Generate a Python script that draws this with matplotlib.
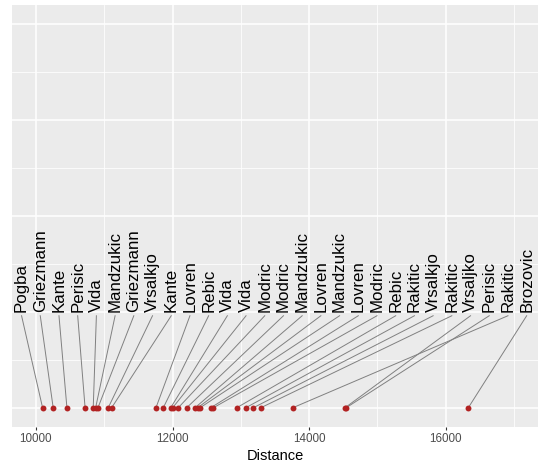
"""
Distance covered per player, labels repelled above the points with leader lines
"""
import numpy as np
import matplotlib
matplotlib.use("Agg")
import matplotlib.pyplot as plt

# data, in the order the labels appear from left to right
players = ["Pogba", "Griezmann", "Kante", "Perisic", "Vida", "Mandzukic", "Griezmann", "Vrsalkjo",
           "Kante", "Lovren", "Rebic", "Vida", "Vida", "Modric", "Modric", "Mandzukic", "Lovren",
           "Mandzukic", "Lovren", "Modric", "Rebic", "Rakitic", "Vrsalkjo", "Rakitic", "Vrsaljko",
           "Perisic", "Rakitic", "Brozovic"]
distance = [10098, 10253, 10454, 10720, 10839, 10874, 10908, 11058,
            11108, 11757, 11864, 11972, 12001, 12083, 12206, 12328, 12367,
            12401, 12558, 12596, 12938, 13070, 13181, 13290, 14524,
            14540, 13758, 16329]
x_ticks = [10000, 12000, 14000, 16000]


def plot():
    plt.rcParams['font.family'] = ['Liberation Sans', 'DejaVu Sans']
    fig = plt.figure(figsize=(5.45, 4.70), dpi=100)
    ax = fig.add_axes([12 / 545, 1 - 427 / 470, 526 / 545, 422 / 470])

    # ggplot grey theme
    ax.set_facecolor('#EBEBEB')
    for s in ax.spines.values():
        s.set_visible(False)
    ax.set_xlim(9650, 17350)
    ax.set_ylim(-0.2, 4.2)
    ax.set_xticks(x_ticks)
    ax.set_xticks([11000, 13000, 15000, 17000], minor=True)
    ax.set_yticks([0, 1, 2, 3, 4])
    ax.set_yticks([0.5, 1.5, 2.5, 3.5], minor=True)
    ax.grid(which='major', color='white', linewidth=1.1)
    ax.grid(which='minor', color='white', linewidth=0.55)
    ax.set_axisbelow(True)
    ax.tick_params(axis='x', which='major', length=2.5, color='#333333', labelsize=8.4,
                   labelcolor='#4D4D4D', pad=2)
    ax.tick_params(axis='x', which='minor', length=0)
    ax.tick_params(axis='y', which='both', length=0, labelleft=False)
    ax.set_xlabel("Distance", fontsize=10.5, labelpad=3)

    n = len(players)
    label_x = np.linspace(9790, 17184, n)
    y_point = 0.0
    y_label = 1.0

    # leader segments from label to point
    for lx, d in zip(label_x, distance):
        ax.plot([lx, d], [y_label - 0.04, y_point], color='#808080', linewidth=0.7, zorder=2)

    ax.scatter(distance, np.zeros(n) + y_point, s=18, color='#B22222', zorder=3, linewidths=0)

    for lx, name in zip(label_x, players):
        ax.text(lx, y_label, name, rotation=90, ha='center', va='bottom', fontsize=12.2,
                color='black', zorder=4)

    plt.savefig("out.png", dpi=100)


if __name__ == "__main__":
    plot()
